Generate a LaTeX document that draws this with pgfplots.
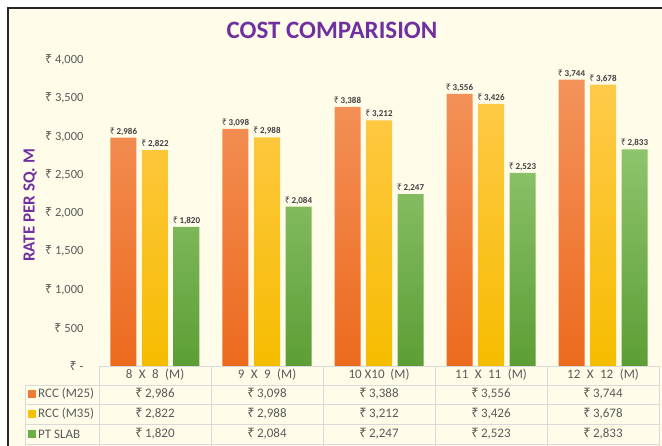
\documentclass[border=0pt]{standalone}
\usepackage{pgfplots}
\pgfplotsset{compat=1.18}
\usepackage{fontspec}
\setmainfont{Carlito}
\newfontfamily\rsfont{Noto Sans}
\newcommand\R{{\rsfont\char"20B9}}
\definecolor{bgc}{HTML}{FFFDE9}
\definecolor{ttl}{HTML}{7030A0}
\definecolor{tick}{HTML}{595959}
\definecolor{lab}{HTML}{404040}
\definecolor{grid}{HTML}{D9D9D9}
\definecolor{oT}{HTML}{F4935B}
\definecolor{oB}{HTML}{EC6A1E}
\definecolor{yT}{HTML}{FFCA4A}
\definecolor{yB}{HTML}{F6BC00}
\definecolor{gT}{HTML}{8EC46C}
\definecolor{gB}{HTML}{5C9E35}
\definecolor{oL}{HTML}{EE7A35}
\definecolor{yL}{HTML}{F8C000}
\definecolor{gL}{HTML}{6AAE44}
\pgfkeys{/pgf/number format/.cd, assume math mode=true, 1000 sep={,}}
\newcommand\tf{\fontsize{13}{15}\selectfont}
\begin{document}
\begin{tikzpicture}[x=1pt,y=1pt]
\clip (0,0) rectangle (662,446);
\fill[white] (0,0) rectangle (662,446);
\draw[fill=bgc, line width=1.5pt, draw=black!85] (8,-10) rectangle (672,438);
\node[font=\fontsize{25}{28}\selectfont\bfseries, text=ttl] at (332,416) {COST COMPARISION};
\begin{axis}[
  at={(99pt,80pt)}, anchor=south west, scale only axis,
  width=560pt, height=306pt,
  xmin=-0.5, xmax=4.5, ymin=0, ymax=4000,
  axis x line=bottom, axis y line=left,
  x axis line style={draw=grid, -},
  y axis line style={draw=none},
  major tick length=0pt,
  xtick={0,1,2,3,4}, xticklabels={},
  ytick={0,500,...,4000},
  yticklabels={{\R\ -\hspace{6pt}},{\R\ 500},{\R\ 1,000},{\R\ 1,500},{\R\ 2,000},{\R\ 2,500},{\R\ 3,000},{\R\ 3,500},{\R\ 4,000}},
  yticklabel style={font=\fontsize{12.5}{14}\selectfont, text=tick, xshift=-12pt},
  ylabel={RATE PER SQ. M},
  every axis y label/.style={at={(axis description cs:-0.123,0.525)}, rotate=90, anchor=center, font=\fontsize{17}{19}\selectfont\bfseries, text=ttl},
  ybar=5.5pt, bar width=26pt,
  /pgf/number format/assume math mode=true,
  /pgf/number format/1000 sep={,},
  nodes near coords={\R\,\pgfmathprintnumber{\pgfplotspointmeta}},
  every node near coord/.append style={font=\fontsize{9}{10}\selectfont\bfseries, text=lab, inner sep=2pt},
  clip=false,
]
\addplot[draw=none, shading=axis, top color=oT, bottom color=oB] coordinates {(0,2986) (1,3098) (2,3388) (3,3556) (4,3744)};
\addplot[draw=none, shading=axis, top color=yT, bottom color=yB] coordinates {(0,2822) (1,2988) (2,3212) (3,3426) (4,3678)};
\addplot[draw=none, shading=axis, top color=gT, bottom color=gB] coordinates {(0,1820) (1,2084) (2,2247) (3,2523) (4,2833)};
\end{axis}
% data table
\draw[grid, line width=0.6pt] (25,61) -- (659,61) (25,42) -- (659,42) (25,22) -- (659,22) (25,2) -- (659,2);
\foreach \x in {99,211,323,435,547,659} \draw[grid, line width=0.6pt] (\x,80) -- (\x,0);
\draw[grid, line width=0.6pt] (25,61) -- (25,0);
\foreach \c [count=\i from 0] in {{8\enspace X\enspace 8\enspace (M)},{9\enspace X\enspace 9\enspace (M)},{10 X10 \ (M)},{11\enspace X\enspace 11\enspace (M)},{12\enspace X\enspace 12\enspace (M)}}
  \node[font=\tf, text=tick] at (155+112*\i,71) {\c};
\foreach \v [count=\i from 0] in {2986,3098,3388,3556,3744}
  \node[font=\tf, text=tick] at (155+112*\i,52) {\R\,\pgfmathprintnumber[assume math mode=true,1000 sep={,}]{\v}};
\foreach \v [count=\i from 0] in {2822,2988,3212,3426,3678}
  \node[font=\tf, text=tick] at (155+112*\i,32) {\R\,\pgfmathprintnumber[assume math mode=true,1000 sep={,}]{\v}};
\foreach \v [count=\i from 0] in {1820,2084,2247,2523,2833}
  \node[font=\tf, text=tick] at (155+112*\i,12) {\R\,\pgfmathprintnumber[assume math mode=true,1000 sep={,}]{\v}};
\fill[oL] (28,48) rectangle (36,56);
\fill[yL] (28,28) rectangle (36,36);
\fill[gL] (28,8) rectangle (36,16);
\node[font=\tf, text=tick, anchor=west, inner sep=0pt] at (38,52) {RCC (M25)};
\node[font=\tf, text=tick, anchor=west, inner sep=0pt] at (38,32) {RCC (M35)};
\node[font=\tf, text=tick, anchor=west, inner sep=0pt] at (38,12) {PT SLAB};
\end{tikzpicture}
\end{document}
